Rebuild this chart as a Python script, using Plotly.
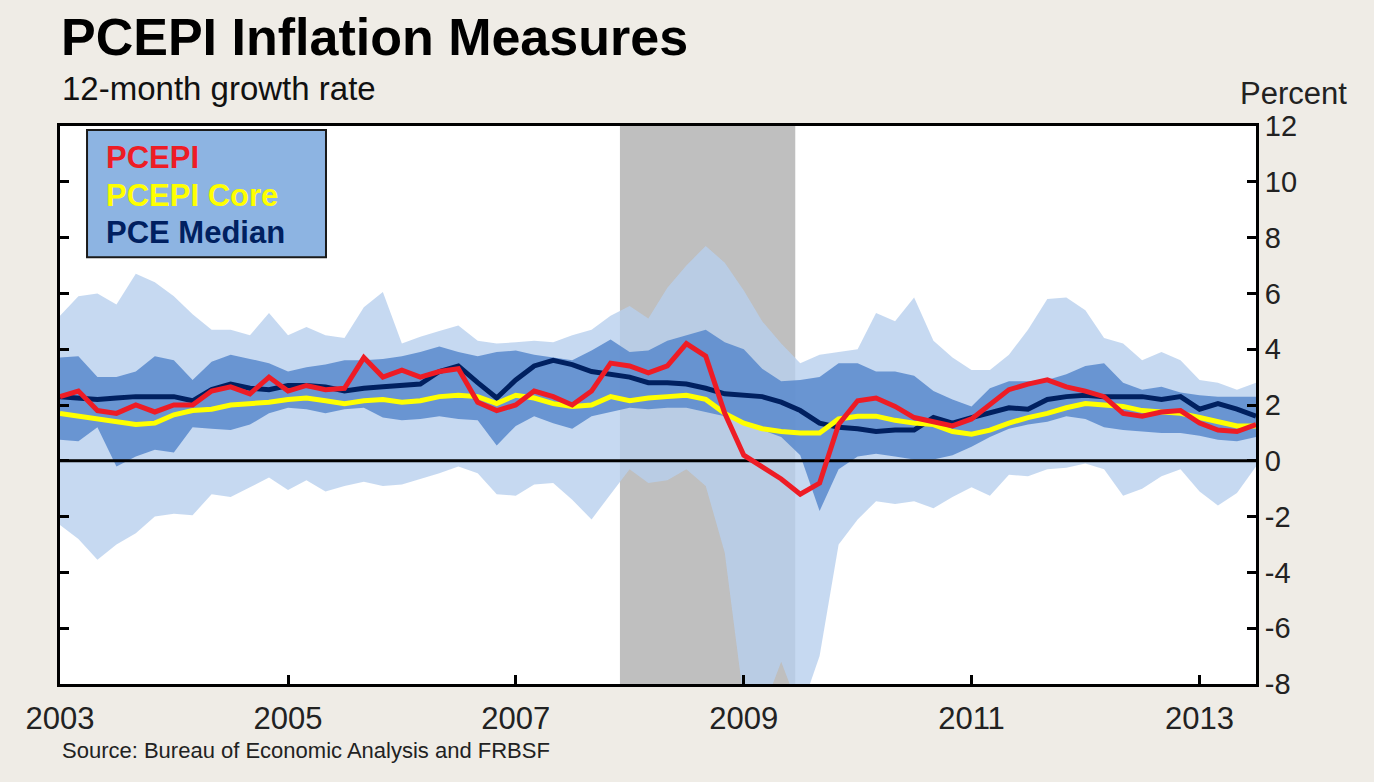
import pandas as pd
import plotly.graph_objects as go

# Bimonthly sample points, Jan 2003 .. Jul 2013
DATES = pd.date_range("2003-01-01", "2013-07-01", freq="2MS")

PCEPI = [2.3, 2.5, 1.8, 1.7, 2.0, 1.75, 2.0, 2.0, 2.5, 2.65, 2.4, 3.0, 2.5, 2.7, 2.55, 2.6,
         3.7, 3.0, 3.25, 3.0, 3.2, 3.3, 2.1, 1.8, 2.0, 2.5, 2.3, 2.0, 2.5, 3.5, 3.4, 3.15,
         3.4, 4.2, 3.75, 1.7, 0.2, -0.2, -0.65, -1.2, -0.8, 1.3, 2.15, 2.25, 1.95, 1.55, 1.4, 1.25,
         1.5, 2.0, 2.55, 2.75, 2.9, 2.65, 2.5, 2.3, 1.7, 1.6, 1.75, 1.8, 1.35, 1.1, 1.05, 1.3]
CORE = [1.7, 1.6, 1.5, 1.4, 1.3, 1.35, 1.65, 1.8, 1.85, 2.0, 2.05, 2.1, 2.2, 2.25, 2.15, 2.05,
        2.15, 2.2, 2.1, 2.15, 2.3, 2.35, 2.3, 2.05, 2.35, 2.25, 2.05, 1.95, 2.0, 2.3, 2.15, 2.25,
        2.3, 2.35, 2.2, 1.7, 1.35, 1.15, 1.05, 1.0, 1.0, 1.5, 1.6, 1.6, 1.45, 1.35, 1.3, 1.05,
        0.95, 1.1, 1.35, 1.55, 1.7, 1.9, 2.05, 2.0, 1.95, 1.8, 1.75, 1.7, 1.55, 1.4, 1.25, 1.25]
MEDIAN = [2.3, 2.25, 2.2, 2.25, 2.3, 2.3, 2.3, 2.15, 2.55, 2.75, 2.6, 2.55, 2.7, 2.7, 2.65, 2.5,
          2.6, 2.65, 2.7, 2.75, 3.2, 3.4, 2.8, 2.25, 2.9, 3.4, 3.6, 3.45, 3.2, 3.1, 3.0, 2.8,
          2.8, 2.75, 2.6, 2.4, 2.35, 2.3, 2.1, 1.8, 1.35, 1.2, 1.15, 1.05, 1.1, 1.1, 1.55, 1.35,
          1.55, 1.7, 1.9, 1.85, 2.2, 2.3, 2.35, 2.3, 2.3, 2.3, 2.2, 2.3, 1.85, 2.05, 1.85, 1.6]

# Outer (light) and inner (medium) distribution bands
OUTER_HI = [5.2, 5.9, 6.0, 5.6, 6.7, 6.4, 5.9, 5.25, 4.7, 4.7, 4.5, 5.3, 4.5, 4.8, 4.5, 4.4,
            5.5, 6.05, 4.2, 4.45, 4.65, 4.85, 4.3, 4.2, 4.25, 4.3, 4.25, 4.5, 4.7, 5.2, 5.55, 5.1,
            6.2, 7.0, 7.7, 7.1, 6.1, 5.0, 4.2, 3.5, 3.8, 3.9, 4.0, 5.3, 5.0, 5.85, 4.3, 3.7,
            3.25, 3.25, 3.8, 4.7, 5.8, 5.85, 5.4, 4.4, 4.2, 3.6, 3.9, 3.6, 2.9, 2.8, 2.55, 2.8]
OUTER_LO = [-2.3, -2.8, -3.55, -3.0, -2.6, -2.0, -1.9, -1.95, -1.2, -1.3, -0.95, -0.6, -1.05, -0.7, -1.1, -0.9,
            -0.75, -0.9, -0.85, -0.65, -0.45, -0.2, -0.45, -1.2, -1.25, -0.85, -0.8, -1.4, -2.1, -1.2, -0.3, -0.8,
            -0.7, -0.3, -0.9, -3.3, -8.6, -9.0, -7.2, -9.0, -7.0, -3.0, -2.1, -1.45, -1.55, -1.45, -1.7, -1.3,
            -0.95, -1.25, -0.5, -0.55, -0.3, -0.25, -0.1, -0.3, -1.25, -1.0, -0.55, -0.3, -1.1, -1.6, -1.15, -0.2]
INNER_HI = [3.7, 3.75, 3.0, 3.0, 3.2, 3.75, 3.6, 2.9, 3.55, 3.8, 3.65, 3.5, 3.2, 3.35, 3.45, 3.6,
            3.6, 3.65, 3.75, 3.9, 4.1, 3.9, 3.75, 3.9, 3.95, 3.8, 3.7, 3.6, 3.95, 4.35, 3.9, 3.95,
            4.3, 4.5, 4.7, 4.25, 4.0, 3.3, 2.85, 2.9, 3.0, 3.5, 3.5, 3.2, 3.2, 3.05, 2.5, 2.2,
            1.95, 2.6, 2.85, 2.85, 2.9, 3.1, 3.4, 3.5, 2.8, 2.55, 2.65, 2.45, 2.35, 2.3, 2.3, 2.3]
INNER_LO = [0.75, 0.7, 1.2, -0.2, 0.15, 0.4, 0.3, 1.2, 1.15, 1.1, 1.3, 1.7, 1.9, 1.85, 1.7, 1.85,
            1.9, 1.55, 1.45, 1.5, 1.6, 1.5, 1.45, 0.55, 1.25, 1.6, 1.35, 1.15, 1.6, 1.75, 1.9, 1.85,
            1.9, 1.9, 1.75, 1.6, 1.4, 1.1, 0.85, 0.2, -1.8, -0.3, 0.15, 0.25, 0.15, 0.05, 0.05, 0.2,
            0.5, 0.85, 1.15, 1.3, 1.4, 1.6, 1.5, 1.2, 1.1, 1.05, 1.0, 1.0, 0.9, 0.75, 0.7, 0.85]

RECESSION = ("2007-12-01", "2009-06-15")
YEAR_TICKS = ["2003", "2005", "2007", "2009", "2011", "2013"]
Y_TICKS = [-8, -6, -4, -2, 0, 2, 4, 6, 8, 10, 12]

FONT = "Liberation Sans, Arial, sans-serif"
BG = "#efece6"
RED = "#ee1c25"
YELLOW = "#ffff00"
NAVY = "#002060"
LIGHT = "rgba(184,207,238,0.8)"
MID = "rgba(88,136,204,0.85)"

fig = go.Figure()

# bands
fig.add_trace(go.Scatter(x=DATES, y=OUTER_LO, mode="lines", line=dict(width=0),
                         hoverinfo="skip", showlegend=False))
fig.add_trace(go.Scatter(x=DATES, y=OUTER_HI, mode="lines", line=dict(width=0),
                         fill="tonexty", fillcolor=LIGHT, hoverinfo="skip", showlegend=False))
fig.add_trace(go.Scatter(x=DATES, y=INNER_LO, mode="lines", line=dict(width=0),
                         hoverinfo="skip", showlegend=False))
fig.add_trace(go.Scatter(x=DATES, y=INNER_HI, mode="lines", line=dict(width=0),
                         fill="tonexty", fillcolor=MID, hoverinfo="skip", showlegend=False))

# zero reference line above the bands, below the series
fig.add_trace(go.Scatter(x=[DATES[0], DATES[-1]], y=[0, 0], mode="lines",
                         line=dict(color="black", width=3), hoverinfo="skip", showlegend=False))

fig.add_trace(go.Scatter(x=DATES, y=MEDIAN, mode="lines", name="PCE Median",
                         line=dict(color=NAVY, width=5)))
fig.add_trace(go.Scatter(x=DATES, y=CORE, mode="lines", name="PCEPI Core",
                         line=dict(color=YELLOW, width=5)))
fig.add_trace(go.Scatter(x=DATES, y=PCEPI, mode="lines", name="PCEPI",
                         line=dict(color=RED, width=5)))

fig.add_shape(type="rect", xref="x", yref="paper", x0=RECESSION[0], x1=RECESSION[1],
              y0=0, y1=1, fillcolor="#bfbfbf", line=dict(width=0), layer="below")

# legend box drawn by hand (coloured text, no symbols)
fig.add_shape(type="rect", xref="paper", yref="paper", x0=0.0226, x1=0.2224, y0=0.765, y1=0.993,
              fillcolor="#8db4e2", line=dict(color="#1a1a1a", width=2))
for txt, col, yy in [("PCEPI", RED, 0.943), ("PCEPI Core", YELLOW, 0.876), ("PCE Median", NAVY, 0.810)]:
    fig.add_annotation(text="<b>%s</b>" % txt, xref="paper", yref="paper", x=0.0368, y=yy,
                       xanchor="left", yanchor="middle", showarrow=False,
                       font=dict(family=FONT, size=31, color=col))

fig.add_annotation(text="<b>PCEPI Inflation Measures</b>", xref="paper", yref="paper",
                   x=-0.001, y=1.160, xanchor="left", yanchor="middle", showarrow=False,
                   font=dict(family=FONT, size=52, color="black"))
fig.add_annotation(text="12-month growth rate", xref="paper", yref="paper",
                   x=0.0, y=1.068, xanchor="left", yanchor="middle", showarrow=False,
                   font=dict(family=FONT, size=33, color="#111"))
fig.add_annotation(text="Percent", xref="paper", yref="paper",
                   x=1.031, y=1.059, xanchor="center", yanchor="middle", showarrow=False,
                   font=dict(family=FONT, size=31, color="#222"))
fig.add_annotation(text="Source: Bureau of Economic Analysis and FRBSF", xref="paper", yref="paper",
                   x=0.0, y=-0.1185, xanchor="left", yanchor="middle", showarrow=False,
                   font=dict(family=FONT, size=22, color="#222"))

fig.update_layout(
    width=1374, height=782,
    margin=dict(l=60, r=118, t=126, b=98),
    paper_bgcolor=BG, plot_bgcolor="white",
    font=dict(family=FONT, color="#222"),
    showlegend=False,
)
fig.update_xaxes(
    type="date", range=["2003-01-01", "2013-07-01"],
    tickvals=[y + "-01-01" for y in YEAR_TICKS], ticktext=YEAR_TICKS,
    ticks="inside", ticklen=9, tickwidth=2.5, tickcolor="black",
    showline=True, linecolor="black", linewidth=3, mirror=True,
    showgrid=False, zeroline=False, ticklabelstandoff=5,
    tickfont=dict(family=FONT, size=31, color="#222"),
)
fig.update_yaxes(
    range=[-8, 12], side="right",
    tickvals=Y_TICKS, ticktext=[str(v) for v in Y_TICKS],
    ticks="inside", ticklen=9, tickwidth=2.5, tickcolor="black",
    showline=True, linecolor="black", linewidth=3, mirror="ticks",
    showgrid=False, zeroline=False,
    tickfont=dict(family=FONT, size=29, color="#222"),
)

fig.write_html("out.html", config={"displayModeBar": False},
               post_script="document.body.style.margin='0';document.body.style.overflow='hidden';")
